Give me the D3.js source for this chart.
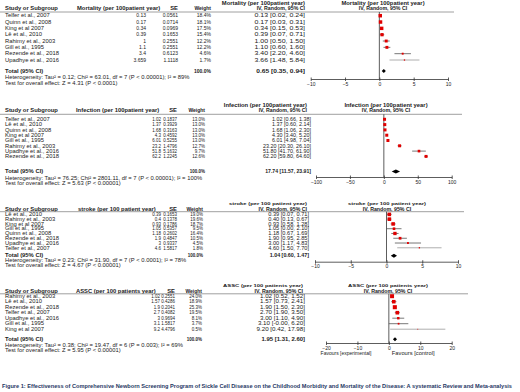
<!DOCTYPE html>
<html><head><meta charset="utf-8">
<script src="https://cdn.jsdelivr.net/npm/d3@7"></script>
<style>
body{margin:0;background:#fff;}
svg text{font-family:"Liberation Sans",Arial,sans-serif;fill:#222;}
</style></head>
<body><svg id="c" width="520" height="392"></svg>
<script>
// ---- Mortality ----
const mortStudies = ["Telfer et al., 2007","Quinn et al., 2008","King et al 2007","Lê et al., 2010","Rahimy et al., 2003","Gill et al., 1995","Rezende et al., 2018","Upadhye et al., 2016"];
const mortValues  = [0.13,0.17,0.34,0.39,1,1.1,3.4,3.659];
const mortSE      = ["0.0561","0.0714","0.0969","0.1653","0.2551","0.2551","0.6123","1.1118"];
const mortWeight  = [18.4,18.1,17.5,15.4,12.2,12.2,4.6,1.7];
const mortLower   = [0.02,0.03,0.15,0.07,0.50,0.60,2.20,1.48];
const mortUpper   = [0.24,0.31,0.53,0.71,1.50,1.60,4.60,5.84];
const mortTotal   = [0.65,0.35,0.94];
const mortHet     = "Heterogeneity: Tau² = 0.12; Chi² = 63.01, df = 7 (P < 0.00001); I² = 89%";
const mortTest    = "Test for overall effect: Z = 4.31 (P < 0.0001)";
const mortTicks   = [-10,-5,0,5,10];

// ---- Infection ----
const infStudies = ["Telfer et al., 2007","Lê et al., 2010","Quinn et al., 2008","King et al 2007","Gill et al., 1995","Rahimy et al., 2003","Upadhye et al., 2016","Rezende et al., 2018"];
const infValues  = [1.02,1.37,1.68,4.3,6.01,23.2,51.8,62.2];
const infSE      = ["0.1837","0.3929","0.3163","0.4592","0.5255","1.4796","5.1632","1.2245"];
const infWeight  = [13.0,13.0,13.0,13.0,13.0,12.7,9.7,12.6];
const infLower   = [0.66,0.60,1.06,3.40,4.98,20.30,41.70,59.80];
const infUpper   = [1.38,2.14,2.30,5.20,7.04,26.10,61.90,64.60];
const infTotal   = [17.74,11.57,23.91];
const infHet     = "Heterogeneity: Tau² = 76.25; Chi² = 2801.11, df = 7 (P < 0.00001); I² = 100%";
const infTest    = "Test for overall effect: Z = 5.63 (P < 0.00001)";
const infTicks   = [-100,-50,0,50,100];

// ---- Stroke ----
const strStudies = ["Lê et al., 2010","Rahimy et al., 2003","King et al 2007","Gill et al., 1995","Quinn et al., 2008","Rezende et al., 2018","Upadhye et al., 2016","Telfer et al., 2007"];
const strValues  = [0.39,0.4,0.93,1.05,1.18,1.9,3,4.6];
const strSE      = ["0.1653","0.1378","0.1786","0.5357","0.2602","0.4847","0.9337","1.5817"];
const strWeight  = [19.0,19.6,18.7,9.5,16.4,10.5,4.5,1.8];
const strLower   = [0.07,0.13,0.58,0.00,0.67,0.95,1.17,1.50];
const strUpper   = [0.71,0.67,1.28,2.10,1.69,2.85,4.83,7.70];
const strTotal   = [1.04,0.60,1.47];
const strHet     = "Heterogeneity: Tau² = 0.23; Chi² = 31.90, df = 7 (P < 0.0001); I² = 78%";
const strTest    = "Test for overall effect: Z = 4.67 (P < 0.00001)";
const strTicks   = [-10,-5,0,5,10];

// ---- ASSC ----
const asStudies = ["Rahimy et al., 2003","Lê et al., 2010","Rezende et al., 2018","Telfer et al., 2007","Upadhye et al., 2016","Gill et al., 1995","King et al 2007"];
const asValues  = [1.02,1.57,1.9,2.7,3,3.1,9.2];
const asSE      = ["0.2551","0.4286","0.2041","0.4082","0.9694","1.5817","4.4796"];
const asWeight  = [24.0,18.9,25.3,19.5,8.1,3.7,0.5];
const asLower   = [0.52,0.73,1.50,1.90,1.10,-0.0001,0.42];
const asUpper   = [1.52,2.41,2.30,3.50,4.90,6.20,17.98];
const asTotal   = [1.95,1.31,2.60];
const asHet     = "Heterogeneity: Tau² = 0.38; Chi² = 19.47, df = 6 (P = 0.003); I² = 69%";
const asTest    = "Test for overall effect: Z = 5.95 (P < 0.00001)";
const asTicks   = [-20,-10,0,10,20];

const caption = "Figure 1: Effectiveness of Comprehensive Newborn Screening Program of Sickle Cell Disease on the Childhood Morbidity and Mortality of the Disease: A systematic Review and Meta-analysis";

const panels = [
 {title:"Mortality (per 100patient year)", studies:mortStudies, v:mortValues, se:mortSE, w:mortWeight, lo:mortLower, hi:mortUpper, tot:mortTotal, het:mortHet, test:mortTest, ticks:mortTicks,
  yTitle:3.5, yHead:8.5, yLine:12, yRow0:15.7, step:6.33, yTot:71, yHet:77, yTest:83, yAxis:79, fsTitle:5, fsHead:5,
  xVal:146, xSE:178, xW:211, xCI:305, xHeadVal:77, xCIHead:305, r0:310.7, r1:448, xForHead:383, lineEnd:454, sxNum:1.0, sxCI:1.4},
 {title:"Infection (per 100patient year)", studies:infStudies, v:infValues, se:infSE, w:infWeight, lo:infLower, hi:infUpper, tot:infTotal, het:infHet, test:infTest, ticks:infTicks,
  yTitle:105, yHead:110.5, yLine:114.3, yRow0:119.3, step:5.3, yTot:171.5, yHet:178, yTest:183.5, yAxis:177, fsTitle:5, fsHead:5,
  xVal:161, xSE:177, xW:205, xCI:311, xHeadVal:76, xCIHead:307, r0:316, r1:451.7, xForHead:386, lineEnd:462, sxNum:0.9, sxCI:1.08},
 {title:"stroke (per 100 patient year)", studies:strStudies, v:strValues, se:strSE, w:strWeight, lo:strLower, hi:strUpper, tot:strTotal, het:strHet, test:strTest, ticks:strTicks,
  yTitle:204, yHead:209.2, yLine:211.7, yRow0:214.4, step:4.77, yTot:255.7, yHet:260.3, yTest:265, yAxis:261.7, fsTitle:4.1, fsHead:4.5,
  xVal:161, xSE:177, xW:203, xCI:309, xHeadVal:78, xCIHead:307, r0:315, r1:458, xForHead:387, lineEnd:464, sxNum:0.9, sxCI:1.13},
 {title:"ASSC (per 100 patients year)", studies:asStudies, v:asValues, se:asSE, w:asWeight, lo:asLower, hi:asUpper, tot:asTotal, het:asHet, test:asTest, ticks:asTicks,
  yTitle:285.8, yHead:291, yLine:293.8, yRow0:296.2, step:5.5, yTot:339.3, yHet:345, yTest:350.3, yAxis:343, fsTitle:4.1, fsHead:4.5,
  xVal:160, xSE:175, xW:202, xCI:305, xHeadVal:76, xCIHead:303, r0:326, r1:451.7, xForHead:388, lineEnd:468, sxNum:0.9, sxCI:1.25, favours:true}
];

const svg = d3.select("#c");
const FS = 5;
const SX = 1.17;

function txt(g, x, y, s, anchor, bold, sx, size){
  return g.append("text").attr("transform",`translate(${x},${y}) scale(${sx||SX},1)`)
    .attr("dy","0.35em")
    .attr("text-anchor",anchor||"start").attr("font-size",size||FS)
    .attr("font-weight",bold?"bold":"normal").text(s);
}
const f2 = d => d.toFixed(2);

panels.forEach(p => {
  const g = svg.append("g");
  const x = d3.scaleLinear().domain([p.ticks[0], p.ticks[p.ticks.length-1]]).range([p.r0, p.r1]);
  const y = i => p.yRow0 + i*p.step;
  const kT = 5/p.fsTitle, kH = 5/p.fsHead;

  // headers
  txt(g, p.xCIHead, p.yTitle, p.title, "end", true, SX*kT, p.fsTitle);
  txt(g, p.xForHead, p.yTitle, p.title, "middle", true, SX*kT, p.fsTitle);
  txt(g, 5, p.yHead, "Study or Subgroup", "start", true, SX*kH, p.fsHead);
  txt(g, p.xHeadVal, p.yHead, p.title, "start", true, SX*kH, p.fsHead);
  txt(g, p.xSE, p.yHead, "SE", "end", true, SX*kH, p.fsHead);
  txt(g, p.xW, p.yHead, "Weight", "end", true, 1.0*kH, p.fsHead);
  txt(g, p.xCIHead, p.yHead, "IV, Random, 95% CI", "end", true, 1.05*kH, p.fsHead);
  txt(g, p.xForHead, p.yHead, "IV, Random, 95% CI", "middle", true, 1.05*kH, p.fsHead);
  g.append("line").attr("x1",0).attr("x2",p.lineEnd).attr("y1",p.yLine).attr("y2",p.yLine)
    .attr("stroke","#888").attr("stroke-width",0.8);

  // rows
  p.studies.forEach((s,i) => {
    txt(g, 5, y(i), s);
    txt(g, p.xVal, y(i), String(p.v[i]), "end", false, p.sxNum);
    txt(g, p.xSE, y(i), p.se[i], "end", false, p.sxNum);
    txt(g, p.xW, y(i), p.w[i].toFixed(1)+"%", "end", false, p.sxNum);
    txt(g, p.xCI, y(i), f2(p.v[i])+" ["+f2(p.lo[i])+", "+f2(p.hi[i])+"]", "end", false, p.sxCI);
  });
  // totals
  txt(g, 5, p.yTot, "Total (95% CI)", "start", true);
  txt(g, p.xW, p.yTot, "100.0%", "end", true, p.sxNum);
  txt(g, p.xCI, p.yTot, f2(p.tot[0])+" ["+f2(p.tot[1])+", "+f2(p.tot[2])+"]", "end", true, p.sxCI*0.95);
  txt(g, 5, p.yHet, p.het);
  txt(g, 5, p.yTest, p.test);

  // zero line
  g.append("line").attr("x1",x(0)).attr("x2",x(0)).attr("y1",p.yLine).attr("y2",p.yAxis)
    .attr("stroke","#333").attr("stroke-width",0.8);

  // CIs
  g.selectAll("line.ci").data(p.studies).join("line")
    .attr("x1",(d,i)=>x(p.lo[i])).attr("x2",(d,i)=>x(p.hi[i]))
    .attr("y1",(d,i)=>y(i)).attr("y2",(d,i)=>y(i))
    .attr("stroke",(d,i)=>p.w[i]<3?"#999":"#555").attr("stroke-width",0.8);
  const sz = w => 0.75*Math.sqrt(w)+0.3;
  g.selectAll("rect.pt").data(p.studies).join("rect")
    .attr("fill","#e00000")
    .attr("width",(d,i)=>sz(p.w[i]))
    .attr("height",(d,i)=>sz(p.w[i]))
    .attr("x",(d,i)=>x(p.v[i]) - sz(p.w[i])/2)
    .attr("y",(d,i)=>y(i) - sz(p.w[i])/2);

  // diamond
  const dy = 2;
  g.append("path").attr("fill","#000")
    .attr("d", `M${x(p.tot[1])},${p.yTot}L${x(p.tot[0])},${p.yTot-dy}L${x(p.tot[2])},${p.yTot}L${x(p.tot[0])},${p.yTot+dy}Z`);

  // axis
  const ax = g.append("g").attr("transform",`translate(0,${p.yAxis})`)
    .call(d3.axisBottom(x).tickValues(p.ticks).tickSize(2).tickSizeOuter(0).tickFormat(d3.format("d")));
  ax.select(".domain").attr("stroke","#333").attr("stroke-width",0.8);
  ax.selectAll(".tick line").attr("stroke","#333").attr("stroke-width",0.8).attr("y1",-1.5);
  ax.selectAll(".tick text").attr("font-size",FS).attr("y",3).attr("font-family","Liberation Sans, Arial, sans-serif").attr("fill","#222");

  if(p.favours){
    txt(g, 346, p.yAxis+10, "Favours [experimental]", "middle", false, 1.0);
    txt(g, x(0)+3, p.yAxis+10, "Favours [control]", "start", false, 1.15);
  }
});

svg.append("text").attr("x",2).attr("y",386).attr("dy","0.35em")
  .attr("font-size",5.6).attr("font-weight","bold")
  .style("fill","#1f3864").attr("font-family","'Open Sans', sans-serif")
  .attr("textLength",510).attr("lengthAdjust","spacingAndGlyphs")
  .text(caption);
</script></body></html>
